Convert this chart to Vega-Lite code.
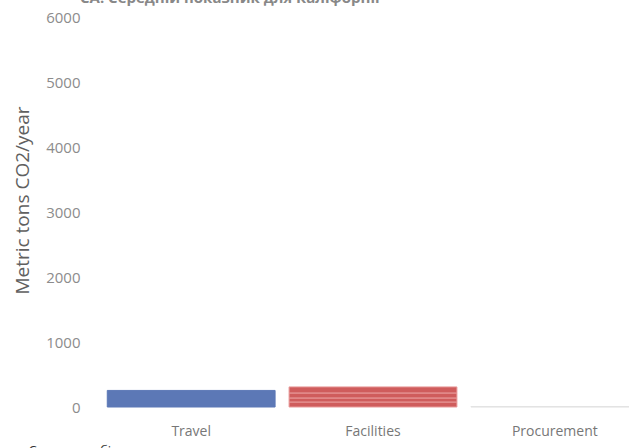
{
  "$schema": "https://vega.github.io/schema/vega-lite/v6.json",
  "autosize": "none",
  "width": 546,
  "height": 390,
  "padding": {"left": 100, "top": 17, "right": 0, "bottom": 41},
  "background": "white",
  "title": {
    "text": "CA: Середній показник для Каліфорнії",
    "anchor": "start",
    "frame": "group",
    "dx": -20,
    "offset": 4,
    "font": "Open Sans",
    "fontSize": 15,
    "fontWeight": "bold",
    "color": "#888888"
  },
  "config": {
    "view": {"stroke": null},
    "axis": {"labelFont": "Open Sans", "titleFont": "Open Sans", "grid": false, "domain": false, "ticks": false}
  },
  "data": {
    "values": [
      {"category": "Travel", "segment": "Travel", "value": 255},
      {"category": "Facilities", "segment": "F1", "value": 77},
      {"category": "Facilities", "segment": "F2", "value": 62},
      {"category": "Facilities", "segment": "F3", "value": 77},
      {"category": "Facilities", "segment": "F4", "value": 93},
      {"category": "Procurement", "segment": "Procurement", "value": 6}
    ]
  },
  "mark": {"type": "bar", "strokeWidth": 1},
  "encoding": {
    "x": {
      "field": "category",
      "type": "nominal",
      "sort": ["Travel", "Facilities", "Procurement"],
      "scale": {"paddingInner": 0.077, "paddingOuter": 0.04},
      "axis": {
        "labelAngle": 0,
        "labelPadding": 17,
        "labelFontSize": 14,
        "labelColor": "#777777",
        "title": "Скинути вибір",
        "titleAnchor": "start",
        "titleX": -72,
        "titleY": 37,
        "titleBaseline": "top",
        "titleFontSize": 13,
        "titleFontWeight": "normal",
        "titleColor": "#333333"
      }
    },
    "y": {
      "field": "value",
      "type": "quantitative",
      "aggregate": "sum",
      "stack": "zero",
      "scale": {"domain": [0, 6000]},
      "axis": {
        "values": [0, 1000, 2000, 3000, 4000, 5000, 6000],
        "format": "d",
        "labelPadding": 20,
        "labelFontSize": 15,
        "labelColor": "#8c8c8c",
        "title": "Metric tons CO2/year",
        "titleFontSize": 19,
        "titleFontWeight": "normal",
        "titleColor": "#606060",
        "titlePadding": 13,
        "titleY": 183,
        "titleAlign": "center"
      }
    },
    "color": {
      "field": "segment",
      "type": "nominal",
      "scale": {
        "domain": ["Travel", "F1", "F2", "F3", "F4", "Procurement"],
        "range": ["#5c78b6", "#cf5c5c", "#cf5c5c", "#cf5c5c", "#cf5c5c", "#e2e2e2"]
      },
      "legend": null
    },
    "stroke": {
      "field": "segment",
      "type": "nominal",
      "scale": {
        "domain": ["Travel", "F1", "F2", "F3", "F4", "Procurement"],
        "range": ["#5c78b6", "#e89a9a", "#e89a9a", "#e89a9a", "#e89a9a", "#e2e2e2"]
      },
      "legend": null
    },
    "order": {"field": "segment", "sort": "ascending"}
  }
}
